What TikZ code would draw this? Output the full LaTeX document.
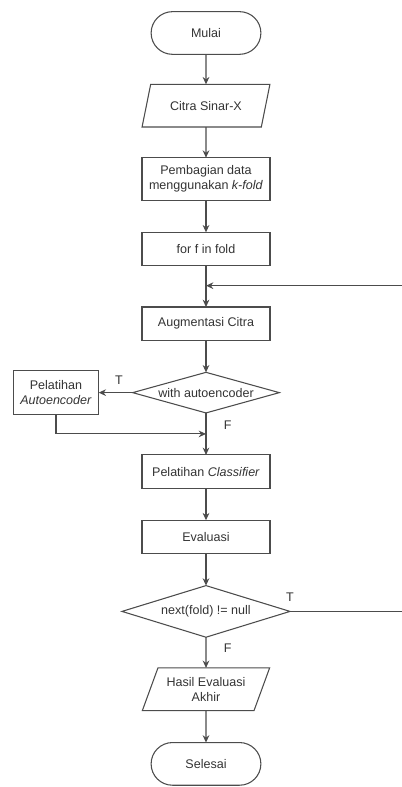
\documentclass[tikz,border=0pt]{standalone}
\usepackage{fontspec}
\setmainfont{Liberation Sans}
\usetikzlibrary{arrows.meta, positioning, shapes.geometric, shapes.misc}
\tikzstyle{flowchart}=[>={Stealth[length=5.5pt, width=5pt]}, node distance=24pt, line width=0.8pt, color=black!70, font=\fontsize{9.4}{11.5}\selectfont, every node/.style={outer sep=0pt}]
\tikzstyle{terminal}=[rounded rectangle, draw, text=black!80, minimum width=89pt, minimum height=32pt]
\tikzstyle{process}=[rectangle, draw, text=black!80, align=center, minimum width=96pt, minimum height=25pt]
\tikzstyle{data}=[trapezium, trapezium left angle=64, trapezium right angle=116, trapezium stretches=true, draw, text=black!80, align=center, inner sep=1pt, minimum width=96pt, minimum height=32pt]
\tikzstyle{decision}=[diamond, draw, text=black!80]

\begin{document}
\begin{tikzpicture}[flowchart]
  \useasboundingbox (0,0) rectangle (300.75pt,-590.25pt);
  \node[terminal] (0) at (154.5pt,-24.75pt) {Mulai};
  \node[data] (1) [below=22.5pt of 0] {Citra Sinar-X};
  \node[process, minimum height=32pt] (2) [below=23pt of 1] {Pembagian data\\menggunakan \textit{k-fold}};
  \node[process] (3) [below=of 2] {for f in fold};
  \node[process] (4) [below=31pt of 3] {Augmentasi Citra};
  \node[decision, aspect=3.5, inner sep=1.2pt, minimum width=110pt] (5) [below=of 4] {with autoencoder};
  \node[process, minimum width=64pt, minimum height=33pt] (6) [left=25.5pt of 5] {Pelatihan\\\textit{Autoencoder}};
  \node[process] (7) [below=31.5pt of 5] {Pelatihan \textit{Classifier}};
  \node[process] (8) [below=of 7] {Evaluasi};
  \node[decision, aspect=3.23, inner sep=3.5pt, minimum width=126pt] (9) [below=of 8] {next(fold) != null};
  \node[data] (10) [below=23pt of 9] {Hasil Evaluasi\\Akhir};
  \node[terminal] (11) [below=of 10] {Selesai};
  \coordinate[below=15pt of 3] (3a);
  \coordinate[below=15.75pt of 5] (5a);
  \coordinate (r) at (302pt,0);
  \path[->] (0) edge (1);
  \path[->] (1) edge (2);
  \path[->] (2) edge (3);
  \path[->] (3) edge (4);
  \path[->] (4) edge (5);
  \path[->] (5) edge node[above=3pt, pos=0.4, text=black!80] {T} (6);
  \path[->] (5) edge node[right=10pt, pos=0.28, text=black!80] {F} (7);
  \path[->] (7) edge (8);
  \path[->] (8) edge (9);
  \path[->] (9) edge node[right=10pt, pos=0.36, text=black!80] {F} (10);
  \path[->] (10) edge (11);
  \draw[->] (6) |- (5a);
  \draw[->] (9) -- node[above=4pt, pos=0, text=black!80] {T} (9 -| r) |- (3a);
\end{tikzpicture}
\end{document}
